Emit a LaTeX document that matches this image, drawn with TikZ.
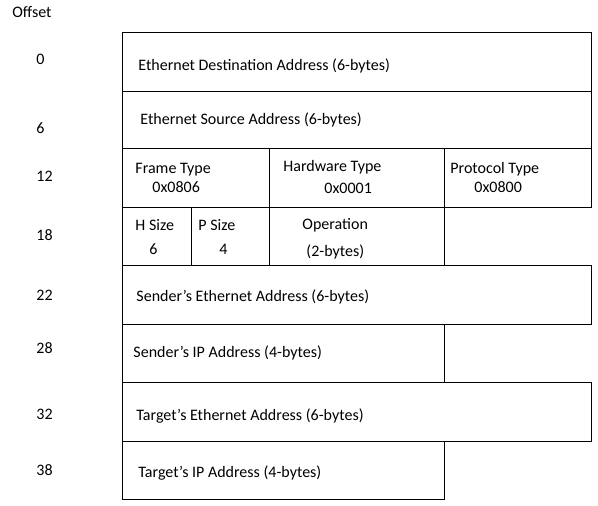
\documentclass[tikz,border=0pt]{standalone}
\usepackage{fontspec}
\setmainfont{Carlito}
\begin{document}
\begin{tikzpicture}[x=1pt,y=-1pt,line width=0.9pt,
	lbl/.style={anchor=west,inner sep=0pt,yshift=-1.5pt,font=\fontsize{16}{19}\selectfont}]
	\useasboundingbox (0,0) rectangle (598,506);
	%offsets
	\node[lbl,anchor=center] (offset) at (32,11) {Offset};
	\foreach \n/\y in {0/58,6/127,12/175,18/234,22/294,28/347,32/413,38/469}
	\node[lbl] (off\n) at (36,\y) {\n};
	%rows of the packet
	\foreach \t/\b/\r in {32/91/591,91/148/591,148/207/591,207/265/444,265/324/591,324/382/444,382/441/591,441/499/444}
	\draw (122,\t) rectangle (\r,\b);
	\draw (269,148) -- (269,265) (444,148) -- (444,207) (191,207) -- (191,265); %dividers
	\node[lbl] (dst) at (138,64) {Ethernet Destination Address (6-bytes)};
	\node[lbl] (src) at (140,118) {Ethernet Source Address (6-bytes)};
	\node[lbl] (frame) at (135,168) {Frame Type};
	\node[lbl] (framev) at (152,186) {0x0806};
	\node[lbl] (hw) at (283,166) {Hardware Type};
	\node[lbl] (hwv) at (324,187) {0x0001};
	\node[lbl] (proto) at (450,168) {Protocol Type};
	\node[lbl] (protov) at (474,186) {0x0800};
	\node[lbl] (hsize) at (135,224) {H Size};
	\node[lbl] (hsizev) at (149,248) {6};
	\node[lbl] (psize) at (198,224) {P Size};
	\node[lbl] (psizev) at (219,248) {4};
	\node[lbl] (op) at (302,224) {Operation};
	\node[lbl] (opv) at (306,250) {(2-bytes)};
	\node[lbl] (sha) at (136,295) {Sender’s Ethernet Address (6-bytes)};
	\node[lbl] (spa) at (133,351) {Sender’s IP Address (4-bytes)};
	\node[lbl] (tha) at (136,415) {Target’s Ethernet Address (6-bytes)};
	\node[lbl] (tpa) at (138,472) {Target’s IP Address (4-bytes)};
\end{tikzpicture}
\end{document}
